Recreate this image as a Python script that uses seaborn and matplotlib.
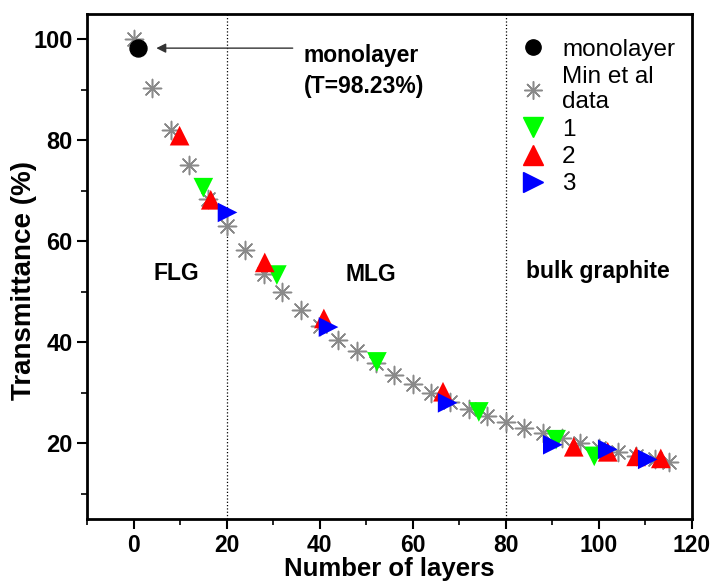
import matplotlib
matplotlib.use("Agg")
import matplotlib.pyplot as plt
import seaborn as sns
from matplotlib.lines import Line2D

# Min et al data (gray asterisks)
min_x = [0, 4, 8, 12, 16, 20, 24, 28, 32, 36, 40, 44, 48, 52, 56, 60, 64, 68,
         72, 76, 80, 84, 88, 92, 96, 100, 104, 108, 112, 115]
min_y = [100, 90.3, 82, 75, 68.4, 63, 58.3, 53.6, 50, 46.4, 43.3, 40.4, 38.2, 35.8,
         33.6, 31.8, 30, 28.2, 26.8, 25.3, 24.2, 23.1, 22.1, 21.1, 20.1, 19.1,
         18.3, 17.4, 16.8, 16.2]

# monolayer point
mono_x = [1]
mono_y = [98.23]

# sample sets
s1_x = [15, 30.8, 52.3, 74.2, 90.8, 99]
s1_y = [70.6, 53.3, 36.1, 26.2, 20.7, 17.4]
s2_x = [9.9, 16.6, 28.2, 40.9, 66.5, 94.6, 101.9, 108, 113.3]
s2_y = [80.9, 68.2, 55.8, 44.7, 30.2, 19.3, 18.3, 17.4, 17.0]
s3_x = [20.2, 41.9, 67.5, 90.1, 101.9, 110.5]
s3_y = [65.7, 43.0, 28.0, 19.7, 18.8, 16.8]

sns.set_style("ticks")
plt.rcParams['font.family'] = ['Liberation Sans', 'DejaVu Sans']
plt.rcParams.update({"text.color": "black", "axes.labelcolor": "black",
                     "xtick.color": "black", "ytick.color": "black",
                     "axes.edgecolor": "black"})

fig = plt.figure(figsize=(7.13, 5.81), dpi=100)
ax = fig.add_axes([0.122, 0.1067, 0.8485, 0.8693])

star = (8, 2, 0)
sns.scatterplot(x=min_x, y=min_y, marker=star, s=170, color="#8a8a8a",
                linewidth=1.1, ax=ax, zorder=2)
sns.scatterplot(x=s1_x, y=s1_y, marker="v", s=200, color="#00ff00",
                edgecolor="none", ax=ax, zorder=3)
sns.scatterplot(x=s2_x, y=s2_y, marker="^", s=200, color="#ff0000",
                edgecolor="none", ax=ax, zorder=3)
sns.scatterplot(x=s3_x, y=s3_y, marker=">", s=200, color="#0000ff",
                edgecolor="none", ax=ax, zorder=3)
sns.scatterplot(x=mono_x, y=mono_y, marker="o", s=150, color="black",
                edgecolor="black", ax=ax, zorder=4)

# region separators
for xv in [20, 80]:
    ax.axvline(xv, color="black", linestyle=":", linewidth=0.9, zorder=1)

ax.set_xlim(-10, 120)
ax.set_ylim(5, 105)
ax.set_xticks([0, 20, 40, 60, 80, 100, 120])
ax.set_xticks(range(-10, 121, 10), minor=True)
ax.set_yticks([20, 40, 60, 80, 100])
ax.set_yticks(range(10, 105, 10), minor=True)
ax.tick_params(axis="both", which="major", length=7, width=1.5, direction="out",
               labelsize=17)
ax.tick_params(axis="x", which="major", pad=4, labelsize=16.5)
ax.tick_params(axis="both", which="minor", length=4, width=1.2, direction="out")
for lbl in ax.get_xticklabels() + ax.get_yticklabels():
    lbl.set_fontweight("bold")
for sp in ax.spines.values():
    sp.set_linewidth(2)
    sp.set_visible(True)

ax.set_xlabel("Number of layers", fontsize=18.5, fontweight="bold", labelpad=0)
ax.set_ylabel("Transmittance (%)", fontsize=20, fontweight="bold")
ax.yaxis.set_label_coords(-0.083, 0.473)

# annotations
ax.annotate("", xy=(4.3, 98.23), xytext=(34.8, 98.23),
            arrowprops=dict(arrowstyle="-|>", color="#333333", lw=1.0,
                            mutation_scale=14))
ax.text(36.6, 93.7, "monolayer\n(T=98.23%)", fontsize=16.5, fontweight="bold",
        va="center", ha="left", linespacing=1.45)
ax.text(4.3, 53.6, "FLG", fontsize=16.5, fontweight="bold", va="center")
ax.text(45.6, 53.4, "MLG", fontsize=16.5, fontweight="bold", va="center")
ax.text(84.3, 54.0, "bulk graphite", fontsize=16.5, fontweight="bold", va="center")

handles = [
    Line2D([], [], marker="o", color="black", linestyle="none", markersize=11),
    Line2D([], [], marker=star, color="#8a8a8a", linestyle="none", markersize=13,
           markeredgewidth=1.1),
    Line2D([], [], marker="v", color="#00ff00", linestyle="none", markersize=14),
    Line2D([], [], marker="^", color="#ff0000", linestyle="none", markersize=14),
    Line2D([], [], marker=">", color="#0000ff", linestyle="none", markersize=14),
]
labels = ["monolayer", "Min et al\ndata", "1", "2", "3"]
ax.legend(handles, labels, loc="upper right", bbox_to_anchor=(1.0, 0.985),
          frameon=False, fontsize=17.5, handletextpad=0.6, labelspacing=0.22,
          borderaxespad=0.3, handlelength=1.2)

fig.savefig("out.png", dpi=100)
